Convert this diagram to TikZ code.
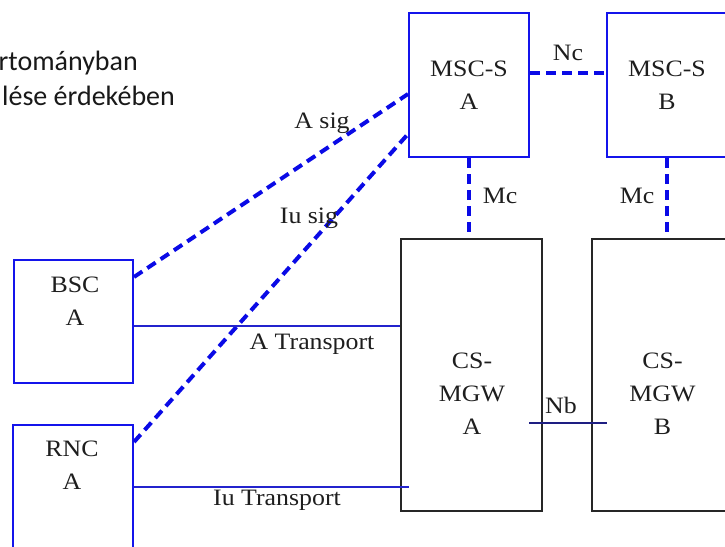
\documentclass[tikz,border=0pt]{standalone}
\usepackage{fontspec}
\setmainfont{Liberation Serif}[FakeStretch=1.1]
\newfontfamily\calib{Carlito}
\definecolor{boxblue}{RGB}{20,20,235}
\definecolor{dashblue}{RGB}{10,10,230}
\definecolor{trblue}{RGB}{35,35,205}
\definecolor{nbnavy}{RGB}{30,30,130}
\definecolor{txt}{RGB}{30,30,30}
\begin{document}
\begin{tikzpicture}[x=1pt,y=-1pt,
  bluebox/.style={draw=boxblue, line width=2pt, inner sep=0pt},
  blackbox/.style={draw=black!85, line width=2.5pt, inner sep=0pt},
  sig/.style={draw=dashblue, line width=4pt, dash pattern=on 10pt off 6pt},
  transport/.style={draw=trblue, line width=2pt},
  nbline/.style={draw=nbnavy, line width=2.5pt},
  boxlbl/.style={font=\fontsize{23.5}{33}\selectfont, text=txt, inner sep=0pt, align=center, anchor=base},
  lbl/.style={font=\fontsize{23.5}{28}\selectfont, text=txt, inner sep=0pt, anchor=base},
  note/.style={font=\calib\fontsize{28}{34}\selectfont, text=black!90, inner sep=0pt, anchor=base east}]
\useasboundingbox (0,0) rectangle (725,546);
\clip (0,0) rectangle (725,546);

% boxes
\node[bluebox, minimum width=120pt, minimum height=144pt] (msca) at (469,85) {};
\node[bluebox, minimum width=120pt, minimum height=144pt] (mscb) at (667,85) {};
\node[blackbox, minimum width=141pt, minimum height=272pt] (mgwa) at (471.5,375) {};
\node[blackbox, minimum width=141pt, minimum height=272pt] (mgwb) at (662.5,375) {};
\node[bluebox, minimum width=119pt, minimum height=123pt] (bsca) at (73.5,321.5) {};
\node[bluebox, minimum width=120pt, minimum height=123pt] (rnca) at (73,486.5) {};

% box texts (anchor base = baseline of last line)
\node[boxlbl] (mscaL) at (469,109) {MSC-S\\A};
\node[boxlbl] (mscbL) at (667,109) {MSC-S\\B};
\node[boxlbl] (mgwaL) at (472,434) {CS-\\MGW\\A};
\node[boxlbl] (mgwbL) at (662.5,434) {CS-\\MGW\\B};
\node[boxlbl] (bscaL) at (75,325) {BSC\\A};
\node[boxlbl] (rncaL) at (72,489) {RNC\\A};

% signalling connectors
\draw[sig] ([yshift=-18pt]bsca.north east) -- ([yshift=-82pt]msca.north west);
\draw[sig] ([yshift=-18pt]rnca.north east) -- ([yshift=-122pt]msca.north west);
\draw[sig] ([yshift=-61pt]msca.north east) -- ([yshift=-61pt]mscb.north west);
\draw[sig] (msca.south) -- (msca.south |- mgwa.north);
\draw[sig] (mscb.south) -- (mscb.south |- mgwb.north);

% transport connectors
\path ([yshift=-4.5pt]bsca.east) coordinate (atr);
\draw[transport] (atr) -- (atr -| mgwa.west);
\path (rnca.east) coordinate (itr);
\path ([xshift=9pt]mgwa.west) coordinate (itrend);
\draw[transport] (itr) -- (itr -| itrend);
\path ([yshift=-48pt]mgwa.east) coordinate (nba);
\path ([xshift=16pt]mgwb.west) coordinate (nbbend);
\draw[nbline] ([xshift=-14pt]nba) -- (nba -| nbbend);

% labels
\node[lbl] (ncL) at (568,60) {Nc};
\node[lbl] (mcaL) at (500,203) {Mc};
\node[lbl] (mcbL) at (637,203) {Mc};
\node[lbl] (asigL) at (322,128) {A sig};
\node[lbl] (iusigL) at (309,223) {Iu sig};
\node[lbl] (atrL) at (312,349) {A Transport};
\node[lbl] (itrL) at (277,505) {Iu Transport};
\node[lbl] (nbL) at (561,413) {Nb};

% cut-off text at top left
\node[note] (note1) at (138,70) {rtományban};
\node[note] (note2) at (175,105) {lése érdekében};
\end{tikzpicture}
\end{document}
